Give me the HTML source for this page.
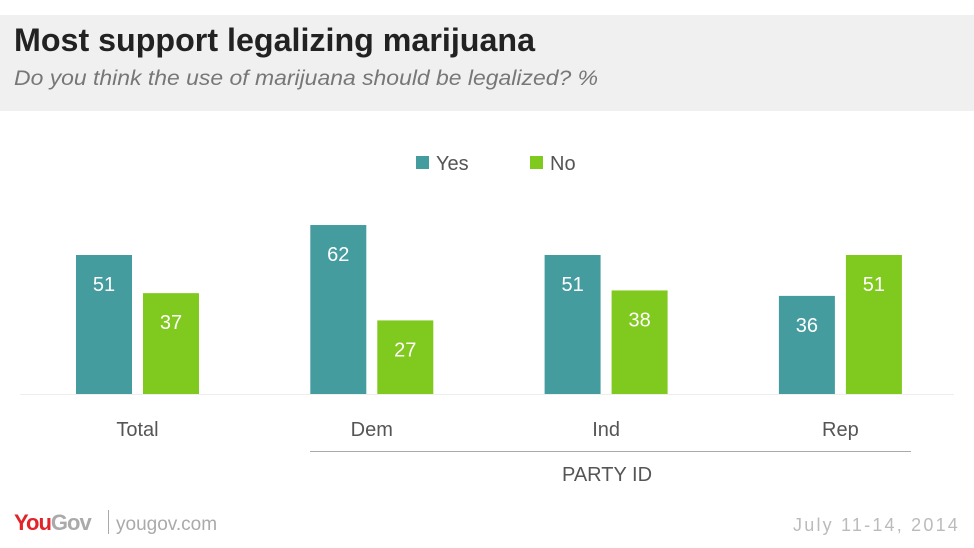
<!DOCTYPE html>
<html><head><meta charset="utf-8"><style>
html,body{margin:0;padding:0;background:#fff;}
svg{display:block;font-family:"Liberation Sans",sans-serif;}
</style></head><body>
<svg id="chart" width="974" height="548">
<rect x="0" y="15" width="974" height="96" fill="#f0f0f0"/>
<text x="14" y="51" font-size="32" font-weight="bold" fill="#222" textLength="521" lengthAdjust="spacingAndGlyphs">Most support legalizing marijuana</text>
<text x="14" y="85" font-size="21" font-style="italic" fill="#777" textLength="584" lengthAdjust="spacingAndGlyphs">Do you think the use of marijuana should be legalized? %</text>
<g>
<rect x="416" y="156" width="13" height="13" fill="#459c9f"/>
<text x="436" y="170" font-size="20" fill="#555">Yes</text>
<rect x="530" y="156" width="13" height="13" fill="#80c91e"/>
<text x="550" y="170" font-size="20" fill="#555">No</text>
</g>
<line x1="20" y1="394.5" x2="954" y2="394.5" stroke="#eee"/>
<g id="bars"></g>
<line x1="310" y1="451.5" x2="911" y2="451.5" stroke="#aaa"/>
<text x="607" y="481" font-size="20" fill="#555" text-anchor="middle">PARTY ID</text>
<text x="14" y="530" font-size="22" font-weight="bold" fill="#e2232a" letter-spacing="-1">You<tspan fill="#aaa">Gov</tspan></text>
<line x1="108.5" y1="510" x2="108.5" y2="534" stroke="#aaa"/>
<text x="116" y="530" font-size="19" fill="#aaa">yougov.com</text>
<text x="960" y="531" font-size="18" fill="#bbb" text-anchor="end" letter-spacing="2.2">July 11-14, 2014</text>
</svg>
<script>
const categories = ["Total","Dem","Ind","Rep"];
const yesValues = [51,62,51,36];
const noValues = [37,27,38,51];
const base = 394, scale = 139/51;
const y = v => base - v*scale;
const groupX = i => 76 + i*234.3;
const g = document.getElementById('bars');
const NS = 'http://www.w3.org/2000/svg';
function mk(tag, attrs){const e=document.createElementNS(NS,tag);for(const k in attrs)e.setAttribute(k,attrs[k]);return e;}
categories.forEach((c,i)=>{
  const x0 = groupX(i);
  [[yesValues[i],'#459c9f',0,'yes'],[noValues[i],'#80c91e',67,'no']].forEach(([v,col,off,s])=>{
    const r = mk('rect',{x:x0+off,y:y(v),width:56,height:base-y(v),fill:col});
    
    
    g.appendChild(r);
    const t = mk('text',{x:x0+off+28,y:y(v)+36,'font-size':20,fill:'#fff','text-anchor':'middle'});
    t.textContent = v;
    
    
    g.appendChild(t);
  });
  const l = mk('text',{x:x0+61.5,y:436,'font-size':20,fill:'#555','text-anchor':'middle'});
  l.textContent = c;
  
  
  g.appendChild(l);
});
</script>
</body></html>
